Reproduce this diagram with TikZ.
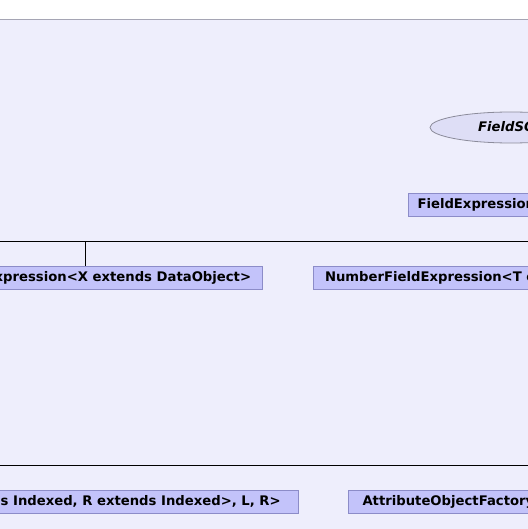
\documentclass[tikz,border=0pt]{standalone}
\usepackage{fontspec}
\setmainfont{DejaVu Sans}
\usepackage{xcolor}
\usetikzlibrary{shapes.geometric}
\definecolor{pkgbg}{RGB}{238,238,252}
\definecolor{pkgline}{RGB}{165,165,180}
\definecolor{clsfill}{RGB}{195,195,250}
\definecolor{clsline}{RGB}{140,140,200}
\definecolor{ifill}{RGB}{222,222,246}
\definecolor{iline}{RGB}{140,140,155}
\begin{document}
\begin{tikzpicture}[x=1bp, y=-1bp,
  cls/.style={draw=clsline, fill=clsfill, line width=1bp, inner ysep=0pt,
    minimum height=23.5bp, text height=0.73em, text depth=0pt,
    font=\bfseries\fontsize{13.2bp}{15bp}\selectfont},
  iface/.style={ellipse, draw=iline, fill=ifill, line width=0.8bp, inner sep=0pt,
    minimum width=162bp, minimum height=31bp,
    font=\bfseries\itshape\fontsize{13.2bp}{15bp}\selectfont},
  tree/.style={black, line width=1bp}]
\useasboundingbox (0,0) rectangle (528,529);
\clip (0,0) rectangle (528,529);
\fill[white] (0,0) rectangle (528,529);
\draw[pkgline, fill=pkgbg, line width=1bp] (-10,19.5) rectangle (540,545);
\node[iface] (fsql) at (511,127.5) {FieldSQL};
\node[cls, anchor=west, inner xsep=9bp] (fexpr) at (408,205) {FieldExpression<T>};
\node[cls, anchor=east, inner xsep=11bp] (dofe) at (262.6,278.2) {DataObjectFieldExpression<X extends DataObject>};
\node[cls, anchor=west, inner xsep=12bp] (nfe) at (312.5,278.2) {NumberFieldExpression<T extends Number>};
\node[cls, anchor=east, inner xsep=17.5bp] (jexpr) at (298.7,502) {JoinExpression<Join<L extends Indexed, R extends Indexed>, L, R>};
\node[cls, anchor=west, inner xsep=14bp] (aof) at (348,502) {AttributeObjectFactory};
\coordinate (busA) at (-10,241.3);
\coordinate (busB) at (540,241.3);
\coordinate (busC) at (-10,465.3);
\coordinate (busD) at (540,465.3);
\coordinate (jdofe) at (85.3,241.3);
\draw[tree] (busA) -- (busB);
\draw[tree] (busC) -- (busD);
\draw[tree] (jdofe) -- (jdofe |- dofe.north);
\end{tikzpicture}
\end{document}
